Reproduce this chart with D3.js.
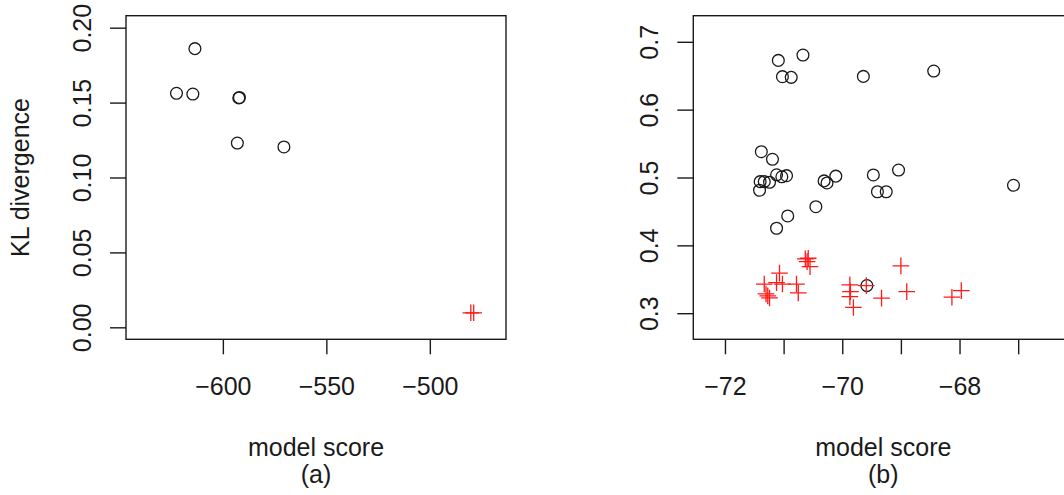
<!DOCTYPE html>
<html>
<head>
<meta charset="utf-8">
<script src="https://cdn.jsdelivr.net/npm/d3@7"></script>
<style>
  html, body { margin: 0; padding: 0; background: #fff; }
  svg { display: block; }
  text { font-family: "Liberation Sans", Arial, Helvetica, sans-serif; fill: #1a1a1a; }
</style>
</head>
<body>
<svg id="chart" width="1064" height="495"></svg>
<script>
// Panel (a): model score vs KL divergence
const aCircleX = [-613.5, -622.4, -614.5, -592.3, -592.0, -593.0, -570.5];
const aCircleY = [0.186, 0.1562, 0.1557, 0.1531, 0.1534, 0.123, 0.1204];
const aPlusX = [-480.2, -478.8];
const aPlusY = [0.0097, 0.0097];
const aXTicks = [-600, -550, -500];
const aYTicks = [0.00, 0.05, 0.10, 0.15, 0.20];
const aXLim = [-640, -470];
const aYLim = [0, 0.2];

// Panel (b)
const bCircleX = [-71.09, -70.67, -71.02, -70.87, -69.64, -68.44,
                  -71.38, -71.19, -71.41, -71.40, -71.33, -71.24,
                  -71.12, -71.03, -70.95, -71.12, -70.93, -70.45,
                  -70.31, -70.26, -70.11, -69.47, -69.40, -69.25,
                  -69.04, -67.08, -69.58];
const bCircleY = [0.6726, 0.6805, 0.6486, 0.6476, 0.649, 0.6569,
                  0.538, 0.5268, 0.4812, 0.4939, 0.4939, 0.493,
                  0.504, 0.501, 0.5027, 0.4252, 0.4433, 0.457,
                  0.495, 0.492, 0.502, 0.5037, 0.479, 0.479,
                  0.511, 0.4885, 0.3407];
const bPlusX = [-71.33, -71.30, -71.27, -71.24, -71.07, -71.12, -71.02,
                -70.78, -70.75, -70.63, -70.58, -70.60, -70.55,
                -69.87, -69.86, -69.87, -69.81, -69.59, -69.33,
                -69.00, -68.90, -68.13, -67.97];
const bPlusY = [0.343, 0.3284, 0.3255, 0.3225, 0.359, 0.345, 0.343,
                0.343, 0.330, 0.380, 0.381, 0.376, 0.3686,
                0.3417, 0.3318, 0.3244, 0.3085, 0.3406, 0.3222,
                0.3697, 0.3318, 0.3236, 0.3333];
const bXTicks = [-72, -71, -70, -69, -68, -67];
const bXLabels = ["\u221272", "", "\u221270", "", "\u221268", ""];
const bYTicks = [0.3, 0.4, 0.5, 0.6, 0.7];
const bXLim = [-72.30, -66.30];
const bYLim = [0.2792, 0.7208];

const svg = d3.select("#chart");
const INK = "#1a1a1a";
const RED = "#ff1a1a";
const fontSize = 25;
const plotTop = 15.7, plotBottom = 339.3, plotWidth = 380;

// R-style 4% padding around the limits
function padded(lim) {
  const d = (lim[1] - lim[0]) * 0.04;
  return [lim[0] - d, lim[1] + d];
}

function minusFmt(v, digits) {
  const s = d3.format("." + digits + "f")(Math.abs(v));
  return (v < 0 ? "\u2212" : "") + s;
}

function panel(opt) {
  const g = svg.append("g");
  const x = d3.scaleLinear().domain(padded(opt.xlim)).range([opt.left, opt.left + plotWidth]);
  const y = d3.scaleLinear().domain(padded(opt.ylim)).range([plotBottom, plotTop]);

  // box
  g.append("rect")
    .attr("x", opt.left).attr("y", plotTop)
    .attr("width", plotWidth).attr("height", plotBottom - plotTop)
    .attr("fill", "none").attr("stroke", INK).attr("stroke-width", 1.4);

  // x axis
  const xAxis = d3.axisBottom(x).tickValues(opt.xTicks)
    .tickSize(15).tickPadding(0)
    .tickFormat((d, i) => opt.xLabels ? opt.xLabels[i] : minusFmt(d, 0));
  const gx = g.append("g").attr("transform", `translate(0,${plotBottom})`).call(xAxis);
  gx.select(".domain").remove();
  gx.selectAll(".tick line").attr("stroke", INK).attr("stroke-width", 1.4);
  gx.selectAll(".tick text")
    .attr("y", 0).attr("dy", 0)
    .attr("transform", "translate(0,56)")
    .attr("fill", INK)
    .style("font-size", fontSize + "px")
    .style("font-family", '"Liberation Sans", Arial, sans-serif');

  // y axis (labels parallel to axis)
  const yAxis = d3.axisLeft(y).tickValues(opt.yTicks)
    .tickSize(16).tickPadding(0)
    .tickFormat(d => d3.format("." + opt.yDigits + "f")(d));
  const gy = g.append("g").attr("transform", `translate(${opt.left},0)`).call(yAxis);
  gy.select(".domain").remove();
  gy.selectAll(".tick line").attr("stroke", INK).attr("stroke-width", 1.4);
  gy.selectAll(".tick text")
    .attr("x", 0).attr("dy", 0)
    .attr("transform", "translate(-35,0) rotate(-90)")
    .attr("text-anchor", "middle")
    .attr("fill", INK)
    .style("font-size", fontSize + "px")
    .style("font-family", '"Liberation Sans", Arial, sans-serif');

  // clip marks to the plotting region
  const clipId = "clip" + opt.id;
  svg.append("clipPath").attr("id", clipId).append("rect")
    .attr("x", opt.left).attr("y", plotTop).attr("width", plotWidth).attr("height", plotBottom - plotTop);
  const marks = g.append("g").attr("clip-path", `url(#${clipId})`);

  marks.selectAll("circle.pt")
    .data(opt.cx.map((v, i) => [v, opt.cy[i]]))
    .join("circle")
    .attr("class", "pt")
    .attr("cx", d => x(d[0])).attr("cy", d => y(d[1]))
    .attr("r", 5.9)
    .attr("fill", "none").attr("stroke", INK).attr("stroke-width", 1.3);

  const h = 8.3;
  marks.selectAll("path.plus")
    .data(opt.px.map((v, i) => [v, opt.py[i]]))
    .join("path")
    .attr("class", "plus")
    .attr("d", d => {
      const cx = x(d[0]), cy = y(d[1]);
      return `M${cx - h},${cy}H${cx + h}M${cx},${cy - h}V${cy + h}`;
    })
    .attr("fill", "none").attr("stroke", RED).attr("stroke-width", 1.3);

  const cxMid = opt.left + plotWidth / 2;
  g.append("text").attr("x", cxMid).attr("y", 456)
    .attr("text-anchor", "middle").style("font-size", fontSize + "px")
    .text("model score");
  g.append("text").attr("x", cxMid).attr("y", 483)
    .attr("text-anchor", "middle").style("font-size", fontSize + "px")
    .text(opt.tag);
}

panel({
  id: "a", left: 126, xlim: aXLim, ylim: aYLim,
  xTicks: aXTicks, yTicks: aYTicks, yDigits: 2,
  cx: aCircleX, cy: aCircleY, px: aPlusX, py: aPlusY, tag: "(a)"
});

panel({
  id: "b", left: 693.3, xlim: bXLim, ylim: bYLim,
  xTicks: bXTicks, xLabels: bXLabels, yTicks: bYTicks, yDigits: 1,
  cx: bCircleX, cy: bCircleY, px: bPlusX, py: bPlusY, tag: "(b)"
});

// y-axis title of the left panel
svg.append("text")
  .attr("transform", `translate(29,${(plotTop + plotBottom) / 2}) rotate(-90)`)
  .attr("text-anchor", "middle")
  .style("font-size", fontSize + "px")
  .text("KL divergence");
</script>
</body>
</html>
